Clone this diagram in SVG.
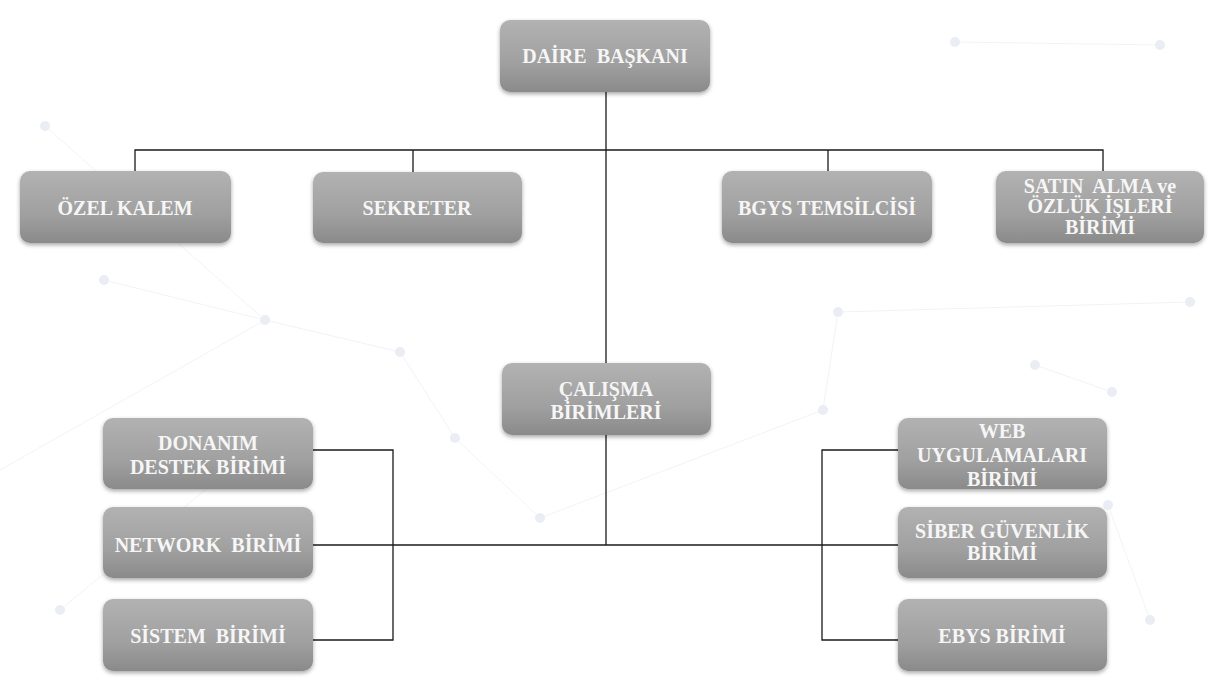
<svg xmlns="http://www.w3.org/2000/svg" width="1224" height="691" viewBox="0 0 1224 691">
  <style>
    .box { fill: url(#g); filter: url(#sh); }
    .t { font-family: "Liberation Serif", "Times New Roman", serif; font-weight: bold; font-size: 20px; fill: #f6f6f6; text-anchor: middle; white-space: pre; }
    .c { fill: none; stroke: #1a1a1a; stroke-width: 1.3; }
    .bg line { stroke: #f2f3f7; stroke-width: 1; }
    .bg circle { fill: #eaedf4; }
  </style>
  <defs>
    <linearGradient id="g" x1="0" y1="0" x2="0" y2="1">
      <stop offset="0" stop-color="#b2b2b2"/>
      <stop offset="0.6" stop-color="#a0a0a0"/>
      <stop offset="1" stop-color="#8a8a8a"/>
    </linearGradient>
    <filter id="sh" x="-10%" y="-20%" width="120%" height="150%">
      <feDropShadow dx="0" dy="2" stdDeviation="2" flood-color="#000" flood-opacity="0.35"/>
    </filter>
  </defs>
  <rect width="1224" height="691" fill="#ffffff"/>
  <g class="bg">
    <line x1="45" y1="126" x2="265" y2="320"/>
    <line x1="104" y1="280" x2="265" y2="320"/>
    <line x1="265" y1="320" x2="400" y2="352"/>
    <line x1="400" y1="352" x2="455" y2="438"/>
    <line x1="455" y1="438" x2="540" y2="518"/>
    <line x1="0" y1="470" x2="265" y2="320"/>
    <line x1="838" y1="312" x2="1190" y2="302"/>
    <line x1="838" y1="312" x2="823" y2="410"/>
    <line x1="955" y1="42" x2="1160" y2="45"/>
    <line x1="1035" y1="365" x2="1112" y2="392"/>
    <line x1="1108" y1="505" x2="1150" y2="620"/>
    <line x1="540" y1="518" x2="823" y2="410"/>
    <line x1="60" y1="610" x2="290" y2="420"/>
    <circle cx="45" cy="126" r="5"/>
    <circle cx="104" cy="280" r="5"/>
    <circle cx="265" cy="320" r="5"/>
    <circle cx="400" cy="352" r="5"/>
    <circle cx="455" cy="438" r="5"/>
    <circle cx="540" cy="518" r="5"/>
    <circle cx="838" cy="312" r="5"/>
    <circle cx="1190" cy="302" r="5"/>
    <circle cx="955" cy="42" r="5"/>
    <circle cx="1160" cy="45" r="5"/>
    <circle cx="823" cy="410" r="5"/>
    <circle cx="1035" cy="365" r="5"/>
    <circle cx="1112" cy="392" r="5"/>
    <circle cx="1108" cy="505" r="5"/>
    <circle cx="1150" cy="620" r="5"/>
    <circle cx="60" cy="610" r="5"/>
  </g>
  <g id="connectors">
    <path class="c" d="M606,92 V363"/>
    <path class="c" d="M135,172 V150 H1103 V172"/>
    <path class="c" d="M413,150 V173"/>
    <path class="c" d="M828,150 V172"/>
    <path class="c" d="M606,435 V545"/>
    <path class="c" d="M313,545 H898"/>
    <path class="c" d="M313,450 H393 V640 H313"/>
    <path class="c" d="M898,450 H822 V640 H898"/>
  </g>
  <g id="daire-baskani">
    <rect class="box" x="500" y="20" width="210" height="72" rx="10"/>
    <text class="t" x="605" y="63">DAİRE  BAŞKANI</text>
  </g>
  <g id="ozel-kalem">
    <rect class="box" x="20" y="171" width="211" height="72" rx="10"/>
    <text class="t" x="125" y="215">ÖZEL KALEM</text>
  </g>
  <g id="sekreter">
    <rect class="box" x="313" y="172" width="209" height="71" rx="10"/>
    <text class="t" x="417" y="215">SEKRETER</text>
  </g>
  <g id="bgys">
    <rect class="box" x="722" y="171" width="210" height="72" rx="10"/>
    <text class="t" x="827" y="215">BGYS TEMSİLCİSİ</text>
  </g>
  <g id="satin-alma">
    <rect class="box" x="996" y="171" width="208" height="72" rx="10"/>
    <text class="t" x="1100" y="193">SATIN  ALMA ve</text>
    <text class="t" x="1100" y="213">ÖZLÜK İŞLERİ</text>
    <text class="t" x="1100" y="234">BİRİMİ</text>
  </g>
  <g id="calisma-birimleri">
    <rect class="box" x="502" y="363" width="209" height="72" rx="10"/>
    <text class="t" x="606" y="396">ÇALIŞMA</text>
    <text class="t" x="606" y="419">BİRİMLERİ</text>
  </g>
  <g id="donanim">
    <rect class="box" x="103" y="418" width="210" height="71" rx="10"/>
    <text class="t" x="208" y="450">DONANIM</text>
    <text class="t" x="208" y="474">DESTEK BİRİMİ</text>
  </g>
  <g id="network">
    <rect class="box" x="103" y="507" width="210" height="71" rx="10"/>
    <text class="t" x="208" y="552">NETWORK  BİRİMİ</text>
  </g>
  <g id="sistem">
    <rect class="box" x="103" y="599" width="210" height="72" rx="10"/>
    <text class="t" x="208" y="643">SİSTEM  BİRİMİ</text>
  </g>
  <g id="web">
    <rect class="box" x="898" y="418" width="209" height="71" rx="10"/>
    <text class="t" x="1002" y="438">WEB</text>
    <text class="t" x="1002" y="462">UYGULAMALARI</text>
    <text class="t" x="1002" y="486">BİRİMİ</text>
  </g>
  <g id="siber">
    <rect class="box" x="898" y="507" width="209" height="71" rx="10"/>
    <text class="t" x="1002" y="538">SİBER GÜVENLİK</text>
    <text class="t" x="1002" y="560">BİRİMİ</text>
  </g>
  <g id="ebys">
    <rect class="box" x="898" y="599" width="209" height="72" rx="10"/>
    <text class="t" x="1002" y="643">EBYS BİRİMİ</text>
  </g>
</svg>
